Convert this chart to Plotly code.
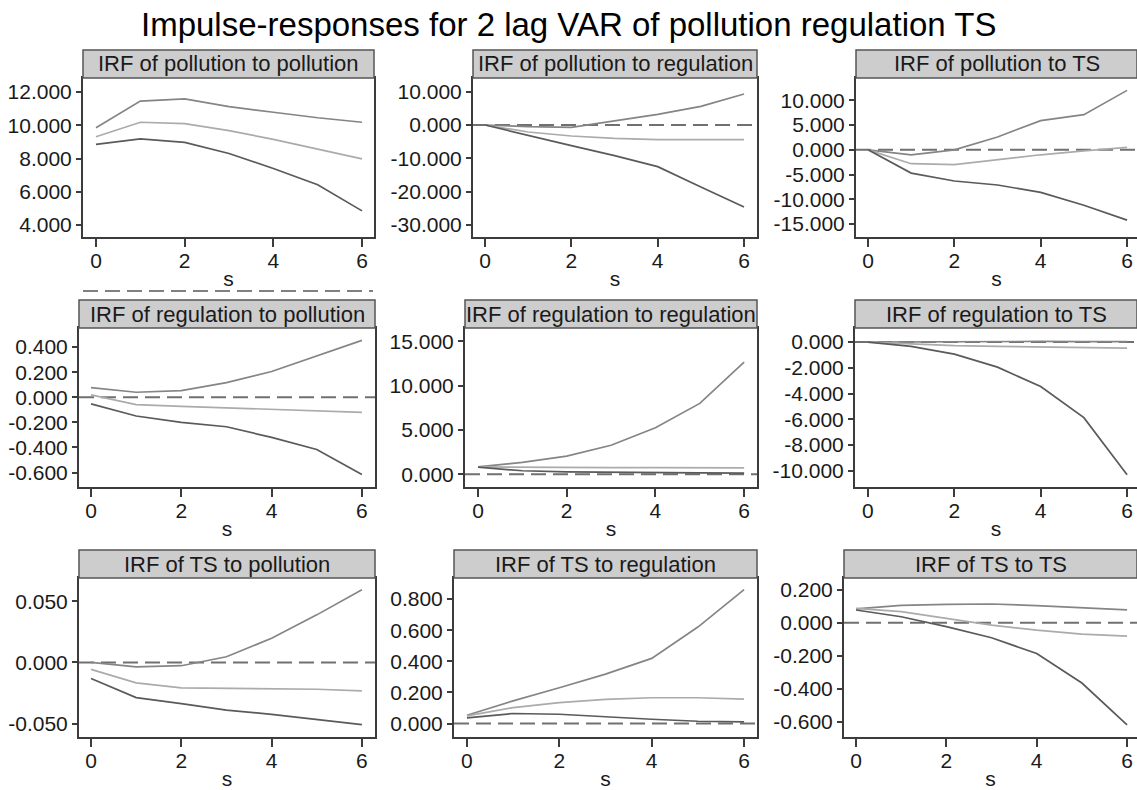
import plotly.graph_objects as go

W, H = 1137, 790

# ---------------- data ----------------
steps = [0, 1, 2, 3, 4, 5, 6]
x_ticks = [0, 2, 4, 6]

panel_titles = [
    "IRF of pollution to pollution", "IRF of pollution to regulation", "IRF of pollution to TS",
    "IRF of regulation to pollution", "IRF of regulation to regulation", "IRF of regulation to TS",
    "IRF of TS to pollution", "IRF of TS to regulation", "IRF of TS to TS",
]

# pollution -> pollution
hi_pol_pol = [9.85, 11.45, 11.58, 11.12, 10.78, 10.45, 10.18]
irf_pol_pol = [9.31, 10.18, 10.10, 9.68, 9.15, 8.55, 7.98]
lo_pol_pol = [8.85, 9.18, 8.97, 8.30, 7.40, 6.42, 4.85]
# pollution -> regulation
hi_pol_reg = [0.0, -0.5, -0.7, 1.2, 3.2, 5.6, 9.3]
irf_pol_reg = [0.0, -2.1, -3.3, -4.0, -4.4, -4.5, -4.4]
lo_pol_reg = [0.0, -3.2, -6.2, -9.2, -12.5, -18.6, -24.6]
# pollution -> TS
hi_pol_ts = [0.0, -1.0, 0.0, 2.6, 5.9, 7.1, 12.0]
irf_pol_ts = [0.0, -2.8, -3.0, -2.0, -1.0, -0.2, 0.5]
lo_pol_ts = [0.0, -4.7, -6.3, -7.1, -8.6, -11.2, -14.2]
# regulation -> pollution
hi_reg_pol = [0.077, 0.040, 0.053, 0.117, 0.205, 0.330, 0.453]
irf_reg_pol = [0.019, -0.059, -0.072, -0.085, -0.096, -0.109, -0.120]
lo_reg_pol = [-0.053, -0.149, -0.200, -0.235, -0.320, -0.416, -0.616]
# regulation -> regulation
hi_reg_reg = [0.83, 1.35, 2.05, 3.28, 5.25, 8.0, 12.65]
irf_reg_reg = [0.83, 0.78, 0.76, 0.75, 0.75, 0.75, 0.73]
lo_reg_reg = [0.80, 0.40, 0.28, 0.22, 0.19, 0.16, 0.14]
# regulation -> TS
hi_reg_ts = [0.0, 0.02, 0.04, 0.05, 0.05, 0.04, 0.03]
irf_reg_ts = [0.0, -0.15, -0.28, -0.34, -0.39, -0.42, -0.47]
lo_reg_ts = [0.0, -0.34, -0.94, -1.95, -3.45, -5.87, -10.3]
# TS -> pollution
hi_ts_pol = [0.0, -0.0036, -0.0027, 0.0046, 0.0197, 0.0388, 0.0593]
irf_ts_pol = [-0.0057, -0.0167, -0.0208, -0.0213, -0.0216, -0.0219, -0.0232]
lo_ts_pol = [-0.0131, -0.0287, -0.0336, -0.0390, -0.0424, -0.0465, -0.0508]
# TS -> regulation
hi_ts_reg = [0.054, 0.146, 0.230, 0.318, 0.419, 0.620, 0.860]
irf_ts_reg = [0.050, 0.103, 0.135, 0.155, 0.166, 0.166, 0.157]
lo_ts_reg = [0.037, 0.065, 0.060, 0.043, 0.028, 0.015, 0.011]
# TS -> TS
hi_ts_ts = [0.083, 0.105, 0.111, 0.113, 0.103, 0.091, 0.077]
irf_ts_ts = [0.087, 0.067, 0.026, -0.014, -0.045, -0.069, -0.081]
lo_ts_ts = [0.077, 0.036, -0.024, -0.091, -0.186, -0.364, -0.617]

y_ticks = [
    [4, 6, 8, 10, 12],
    [-30, -20, -10, 0, 10],
    [-15, -10, -5, 0, 5, 10],
    [-0.6, -0.4, -0.2, 0.0, 0.2, 0.4],
    [0, 5, 10, 15],
    [-10, -8, -6, -4, -2, 0],
    [-0.05, 0.0, 0.05],
    [0.0, 0.2, 0.4, 0.6, 0.8],
    [-0.6, -0.4, -0.2, 0.0, 0.2],
]

series = [
    (hi_pol_pol, irf_pol_pol, lo_pol_pol),
    (hi_pol_reg, irf_pol_reg, lo_pol_reg),
    (hi_pol_ts, irf_pol_ts, lo_pol_ts),
    (hi_reg_pol, irf_reg_pol, lo_reg_pol),
    (hi_reg_reg, irf_reg_reg, lo_reg_reg),
    (hi_reg_ts, irf_reg_ts, lo_reg_ts),
    (hi_ts_pol, irf_ts_pol, lo_ts_pol),
    (hi_ts_reg, irf_ts_reg, lo_ts_reg),
    (hi_ts_ts, irf_ts_ts, lo_ts_ts),
]

# ---------------- layout geometry (pixels) ----------------
plot_x = [(83, 374), (473, 757), (856, 1137),
          (79, 375), (465, 757), (855, 1137),
          (79, 375), (454, 757), (844, 1137)]
row_y = [(78, 237), (328, 487), (578, 737)]
strip_h = 28
x_ranges = [[-0.293, 6.27], [-0.278, 6.30], [-0.278, 6.23],
            [-0.266, 6.29], [-0.293, 6.29], [-0.30, 6.23],
            [-0.266, 6.29], [-0.28, 6.28], [-0.266, 6.22]]
y_ranges = [[3.28, 12.84], [-33.6, 14.1], [-17.6, 14.5],
            [-0.715, 0.552], [-1.43, 16.5], [-11.25, 1.09],
            [-0.0609, 0.0689], [-0.086, 0.935], [-0.69, 0.27]]

FONT = "Liberation Sans, Arial, sans-serif"
C_HI, C_IRF, C_LO = "#858585", "#ababab", "#5a5a5a"
FRAME = "#3c3c3c"
DASH = "15px,7px"

fig = go.Figure()
layout = dict(
    width=W, height=H, autosize=False,
    margin=dict(l=0, r=0, t=0, b=0, autoexpand=False),
    paper_bgcolor="white", plot_bgcolor="white",
    showlegend=False, font=dict(family=FONT, color="#1a1a1a"),
)
shapes = []
annotations = []

for k in range(9):
    r, c = divmod(k, 3)
    sfx = "" if k == 0 else str(k + 1)
    x0, x1 = plot_x[k]
    yt, yb = row_y[r]
    hi, irf, lo = series[k]
    for vals, col in ((hi, C_HI), (irf, C_IRF), (lo, C_LO)):
        fig.add_trace(go.Scatter(
            x=steps, y=vals, mode="lines", xaxis="x" + sfx, yaxis="y" + sfx,
            line=dict(color=col, width=1.7), hoverinfo="skip"))
    layout["xaxis" + sfx] = dict(
        domain=[x0 / W, min(x1 / W, 1.0)], range=x_ranges[k], anchor="y" + sfx,
        tickvals=x_ticks, ticktext=[str(v) for v in x_ticks],
        ticks="outside", ticklen=8, tickwidth=1.5, tickcolor=FRAME,
        ticklabelstandoff=-4, automargin=False,
        tickfont=dict(size=21, color="#1a1a1a"),
        showline=True, mirror=True, linecolor=FRAME, linewidth=2,
        showgrid=False, zeroline=False,
        title=dict(text="s", font=dict(size=21, color="#1a1a1a"), standoff=0),
    )
    layout["yaxis" + sfx] = dict(
        domain=[1 - yb / H, 1 - yt / H], range=y_ranges[k], anchor="x" + sfx,
        tickvals=y_ticks[k], ticktext=[f"{v:.3f}" for v in y_ticks[k]],
        ticks="outside", ticklen=5, tickwidth=1.5, tickcolor=FRAME,
        automargin=False,
        tickfont=dict(size=21, color="#1a1a1a"),
        showline=True, mirror=True, linecolor=FRAME, linewidth=2,
        showgrid=False, zeroline=False,
    )
    # zero reference line
    shapes.append(dict(type="line", xref=f"x{sfx} domain", yref="y" + sfx,
                       x0=0, x1=1, y0=0, y1=0, layer="below",
                       line=dict(color="#707070", width=2, dash=DASH)))
    # strip
    shapes.append(dict(type="rect", xref="paper", yref="paper",
                       x0=x0 / W, x1=min(x1 / W, 1.0),
                       y0=1 - yt / H, y1=1 - (yt - strip_h) / H,
                       fillcolor="#cdcdcd", line=dict(color="#555555", width=1.5)))
    annotations.append(dict(text=panel_titles[k], xref="paper", yref="paper",
                            x=(x0 + min(x1, W)) / 2 / W, y=1 - (yt - strip_h / 2) / H,
                            xanchor="center", yanchor="middle", showarrow=False,
                            font=dict(size=22, color="#1a1a1a", family=FONT)))

# stray dashed rule under the first panel
shapes.append(dict(type="line", xref="paper", yref="paper",
                   x0=83 / W, x1=373 / W, y0=1 - 291 / H, y1=1 - 291 / H,
                   line=dict(color="#808080", width=2, dash=DASH)))

annotations.append(dict(text="Impulse-responses for 2 lag VAR of pollution regulation TS",
                        xref="paper", yref="paper", x=0.5, y=1 - 24 / H,
                        xanchor="center", yanchor="middle", showarrow=False,
                        font=dict(size=33, color="black", family=FONT)))

layout["shapes"] = shapes
layout["annotations"] = annotations
fig.update_layout(**layout)
fig.write_html("out.html")
